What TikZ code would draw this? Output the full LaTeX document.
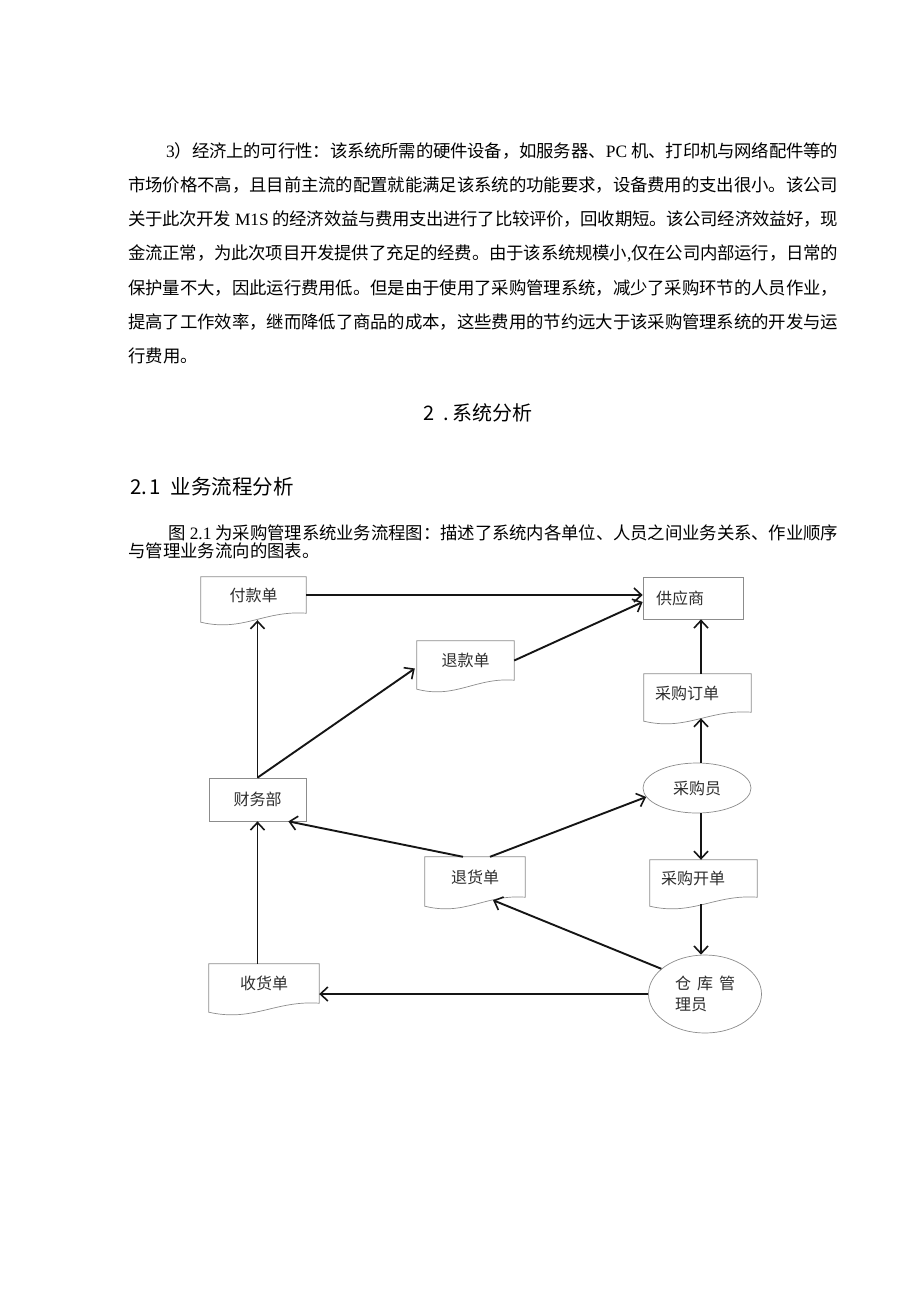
\documentclass[tikz,border=0pt]{standalone}
\usepackage{fontspec}
\setmainfont{Liberation Serif}
\newfontfamily\cjk{Noto Sans CJK SC}
\usetikzlibrary{arrows.meta,shapes.geometric,calc}
\definecolor{labelc}{HTML}{2E2E2E}
\definecolor{boxc}{HTML}{8C8C8C}
\definecolor{arrc}{HTML}{151515}
\newcommand\bodyfont{\cjk\fontsize{17.4}{20}\selectfont}
\newcommand\headfont{\cjk\fontsize{20}{24}\selectfont}
\newcommand\lblfont{\cjk\fontsize{16}{21}\selectfont}
\newcommand\latn[1]{{\rmfamily #1}}
\newcommand\jline[2]{\parbox{#1}{\XeTeXlinebreaklocale "zh"\XeTeXlinebreakskip=0pt plus 4pt minus 1pt\relax\noindent\parfillskip=0pt\relax #2\par}}
\newcommand\docshape[1]{\draw[boxline] (#1.north west) -- (#1.north east) -- (#1.south east)
  .. controls ($(#1.south east)!0.4!(#1.south west)+(0,-3)$) and ($(#1.south east)!0.6!(#1.south west)+(0,19)$)
  .. ($(#1.south west)+(0,9)$) -- cycle;}
\tikzset{
  body/.style={anchor=west, inner sep=0pt, font=\bodyfont},
  lbl/.style={font=\lblfont, text=labelc, inner sep=0pt},
  boxline/.style={draw=boxc, line width=0.7pt},
  arr/.style={draw=arrc, line width=1.9pt, -{Straight Barb[length=7.5pt,width=14pt,line width=1.6pt]}},
}
\begin{document}
\begin{tikzpicture}[x=1pt,y=-1pt]
\useasboundingbox (0,0) rectangle (920,1301);
\fill[white] (0,0) rectangle (920,1301);

% body text
\node[body] (p1) at (166,151) {\jline{672pt}{\latn{3}）经济上的可行性：该系统所需的硬件设备，如服务器、\latn{PC }机、打印机与网络配件等的}};
\node[body] (p2) at (128,185.2) {\jline{710pt}{市场价格不高，且目前主流的配置就能满足该系统的功能要求，设备费用的支出很小。该公司}};
\node[body] (p3) at (128,219.3) {\jline{710pt}{关于此次开发\latn{ M1S }的经济效益与费用支出进行了比较评价，回收期短。该公司经济效益好，现}};
\node[body] (p4) at (128,253.5) {\jline{710pt}{金流正常，为此次项目开发提供了充足的经费。由于该系统规模小\latn{,}仅在公司内部运行，日常的}};
\node[body] (p5) at (128,287.6) {\jline{710pt}{保护量不大，因此运行费用低。但是由于使用了采购管理系统，减少了采购环节的人员作业，}};
\node[body] (p6) at (128,321.8) {\jline{710pt}{提高了工作效率，继而降低了商品的成本，这些费用的节约远大于该采购管理系统的开发与运}};
\node[body] (p7) at (128,355.9) {行费用。};

% headings
\node[anchor=west, inner sep=0pt, font=\headfont] (h2) at (423,413) {2\hspace{9pt}.\hspace{4pt}系统分析};
\node[anchor=west, inner sep=0pt, font=\cjk\fontsize{20.5}{24}\selectfont] (h21) at (130,487) {2.\hspace{2pt}1\hspace{10pt}业务流程分析};

% caption
\node[body] (c1) at (168,533) {\jline{670pt}{图\latn{ 2.1 }为采购管理系统业务流程图：描述了系统内各单位、人员之间业务关系、作业顺序}};
\node[body] (c2) at (128,551) {与管理业务流向的图表。};

% diagram nodes
\node[lbl, minimum width=105pt, minimum height=36pt] (fk) at (253.5,595) {付款单};
\node[lbl, minimum width=97pt, minimum height=39pt] (tk) at (465.5,660.5) {退款单};
\node[lbl, boxline, minimum width=100pt, minimum height=42pt, text width=74pt, inner xsep=13pt, align=left] (gys) at (693,598) {供应商};
\node[lbl, minimum width=107pt, minimum height=38pt, text width=85pt, inner xsep=11pt, align=left] (cgdd) at (697.5,693) {采购订单};
\node[lbl, boxline, minimum width=97pt, minimum height=43pt] (cwb) at (257.5,799.5) {财务部};
\node[lbl, ellipse, boxline, minimum width=108pt, minimum height=50pt] (cgy) at (697,788) {采购员};
\node[lbl, minimum width=100pt, minimum height=40pt] (thd) at (475,877) {退货单};
\node[lbl, minimum width=107pt, minimum height=37pt, text width=85pt, inner xsep=11pt, align=left] (cgkd) at (703.5,878.5) {采购开单};
\node[lbl, minimum width=110pt, minimum height=39pt] (shd) at (264,983.5) {收货单};
\node[lbl, ellipse, boxline, minimum width=113pt, minimum height=78pt, text width=60pt, align=left] (ckgly) at (705,994) {\leavevmode\hbox to 60pt{仓\hfil 库\hfil 管}\\理员};

\docshape{fk}
\docshape{tk}
\docshape{cgdd}
\docshape{thd}
\docshape{cgkd}
\docshape{shd}

% connectors
\coordinate (rc) at (701,0);
\draw[arr] (fk.east) -- (fk.east -| gys.west);
\draw[arr] (tk.east) -- ($(gys.west)+(0,4)$);
\draw[arr] (cwb.north) -- ($(cwb.north |- fk.south)+(0,7)$);
\draw[arr] (cwb.north) -- ($(tk.west)+(-2,8)$);
\draw[arr] (cwb.south |- shd.north) -- (cwb.south);
\draw[arr] ($(thd.north)+(-12,0)$) -- ($(cwb.south east)+(-18,0)$);
\draw[arr] ($(thd.north)+(15,0)$) -- (cgy.190);
\draw[arr] (cgy.north -| rc) -- ($(cgdd.south -| rc)+(0,6)$);
\draw[arr] (cgdd.north -| rc) -- (gys.south -| rc);
\draw[arr] (cgy.south -| rc) -- (cgkd.north -| rc);
\draw[arr] ($(cgkd.south -| rc)+(0,7)$) -- (ckgly.north -| rc);
\draw[arr] (ckgly.150) -- ($(thd.south)+(18,3)$);
\draw[arr] (ckgly.west) -- (ckgly.west -| shd.east);
\end{tikzpicture}
\end{document}
